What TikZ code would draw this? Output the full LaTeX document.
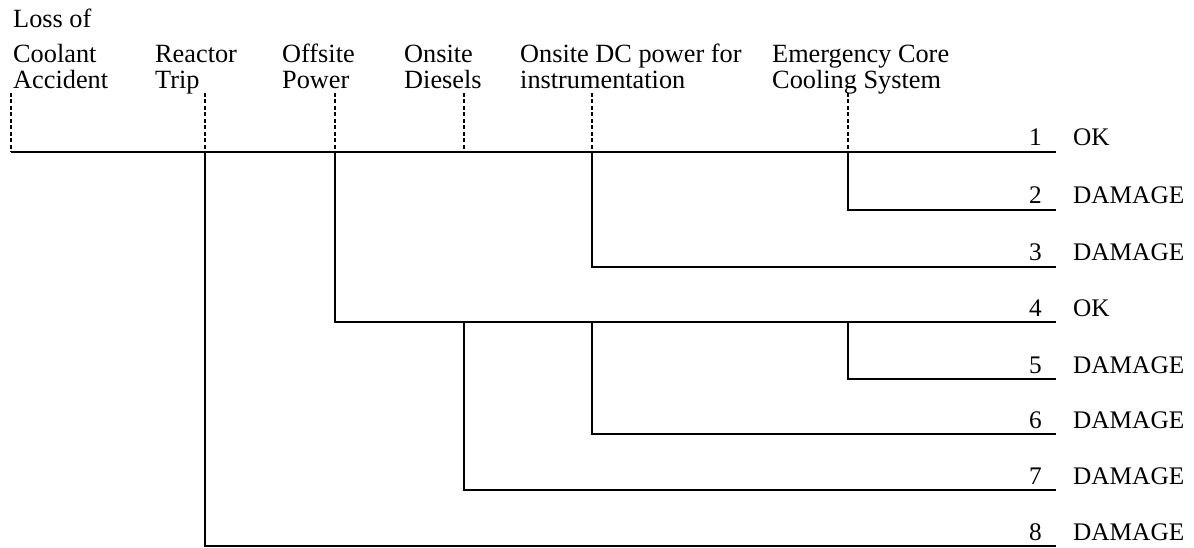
\documentclass[tikz,border=0pt]{standalone}
\usepackage{fontspec}
\setmainfont{Liberation Serif}
\begin{document}
\begin{tikzpicture}[x=1pt,y=-1pt,
  lbl/.style={inner sep=0pt,anchor=base west,font=\fontsize{26.3}{30}\selectfont},
  res/.style={inner sep=0pt,anchor=base west,font=\fontsize{25.3}{30}\selectfont},
  num/.style={inner sep=0pt,anchor=base east,font=\fontsize{25.3}{30}\selectfont},
  branch/.style={line width=1.7pt},
  guide/.style={line width=1.3pt,dash pattern=on 4pt off 2.5pt}]
\useasboundingbox (0,0) rectangle (1194,548);

% column headings
\node[lbl] (h0a) at (13,28) {Loss of};
\node[lbl] (h0b) at (13,63) {Coolant};
\node[lbl] (h0c) at (13,88.5) {Accident};
\node[lbl] (h1a) at (155,63) {Reactor};
\node[lbl] (h1b) at (155,88.5) {Trip};
\node[lbl] (h2a) at (282,63) {Offsite};
\node[lbl] (h2b) at (282,88.5) {Power};
\node[lbl] (h3a) at (404,63) {Onsite};
\node[lbl] (h3b) at (404,88.5) {Diesels};
\node[lbl] (h4a) at (520,63) {Onsite DC power for};
\node[lbl] (h4b) at (520,88.5) {instrumentation};
\node[lbl] (h5a) at (772,63) {Emergency Core};
\node[lbl] (h5b) at (772,88.5) {Cooling System};

% sequence end points
\foreach \i/\y in {1/152,2/210,3/267,4/322,5/379,6/434,7/490,8/546}
  \coordinate (e\i) at (1056,\y);

% branch points
\coordinate (s)  at (11,152);
\coordinate (rt) at (205,152);
\coordinate (op) at (335,152);
\coordinate (dg) at (464,322);
\coordinate (dc1) at (592,152);
\coordinate (dc2) at (592,322);
\coordinate (ec1) at (848,152);
\coordinate (ec2) at (848,322);

% dotted guides from headings down to the main line
\foreach \n/\x in {g0/11,g1/205,g2/335,g3/464,g4/592,g5/848}{
  \coordinate (\n t) at (\x,93);
  \coordinate (\n b) at (\x,152);
  \draw[guide] (\n t) -- (\n b);
}

% event tree
\draw[branch] (s) -- (e1);
\draw[branch] (rt) |- (e8);
\draw[branch] (op) |- (e4);
\draw[branch] (dg) |- (e7);
\draw[branch] (dc1) |- (e3);
\draw[branch] (dc2) |- (e6);
\draw[branch] (ec1) |- (e2);
\draw[branch] (ec2) |- (e5);

% outcomes
\foreach \i/\y/\t in {1/152/OK,2/210/DAMAGE,3/267/DAMAGE,4/322/OK,5/379/DAMAGE,6/434/DAMAGE,7/490/DAMAGE,8/546/DAMAGE}{
  \node[num] (n\i) at (1042,\y-6) {\i};
  \node[res] (o\i) at (1073,\y-6) {\t};
}
\end{tikzpicture}
\end{document}
